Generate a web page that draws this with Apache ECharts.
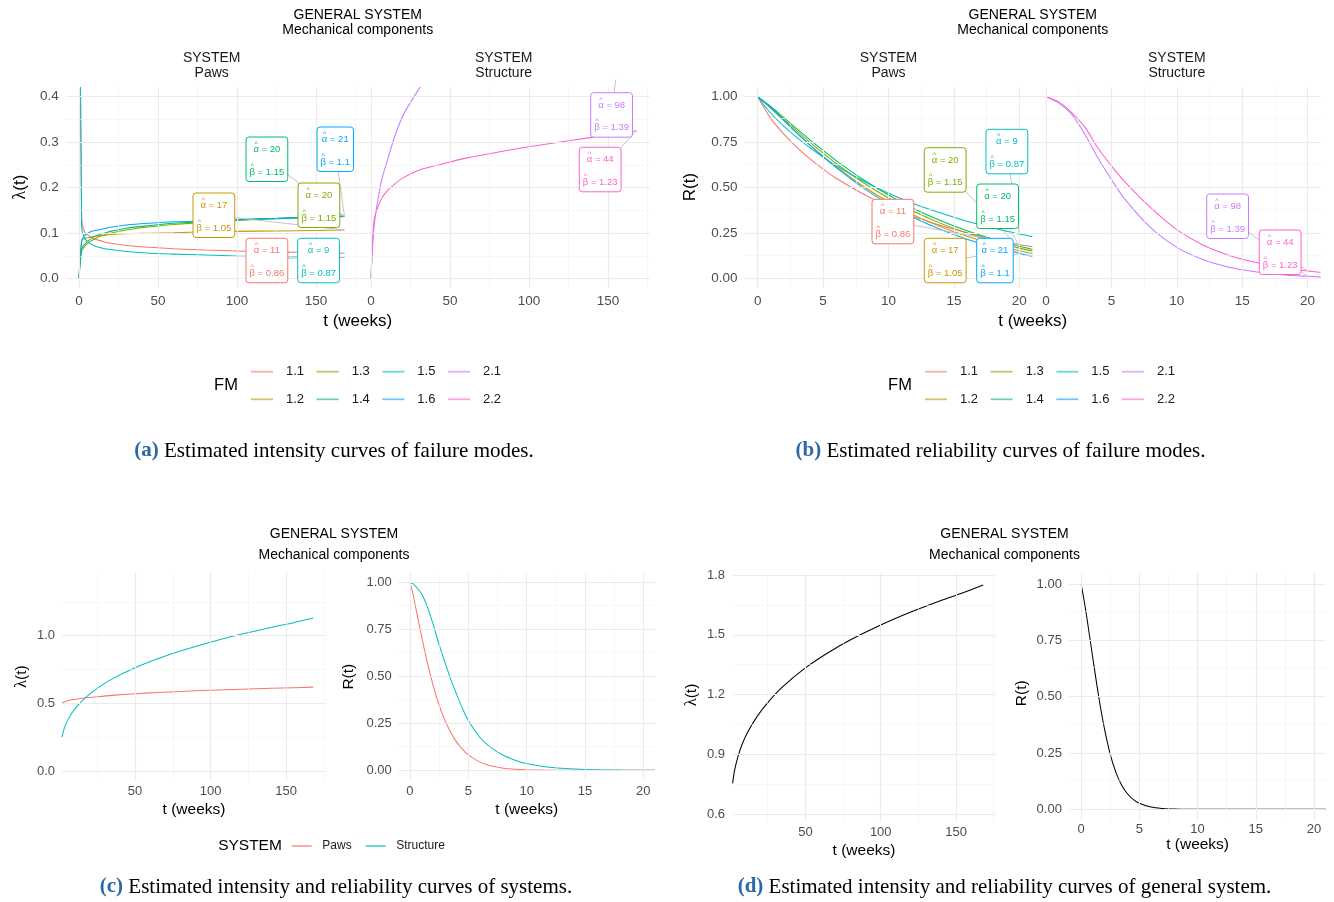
<!DOCTYPE html>
<html>
<head>
<meta charset="utf-8">
<script src="https://cdn.jsdelivr.net/npm/echarts@6.0.0/dist/echarts.min.js"></script>
<style>
  html, body { margin: 0; padding: 0; background: #ffffff; }
  #chart { width: 1334px; height: 902px; }
</style>
</head>
<body>
<div id="chart"></div>
<script>
// ---------------- data ----------------
const FM_NAMES = ['1.1', '1.2', '1.3', '1.4', '1.5', '1.6', '2.1', '2.2'];
const FM_SYSTEM = ['Paws', 'Paws', 'Paws', 'Paws', 'Paws', 'Paws', 'Structure', 'Structure'];
const ALPHA_HAT = [11, 17, 20, 20, 9, 21, 98, 44];
const BETA_HAT = [0.86, 1.05, 1.15, 1.15, 0.87, 1.1, 1.39, 1.23];

// intensity of each failure mode, t in weeks
const T_INT = [0, 1.68, 3.36, 6.72, 10, 15, 20, 30, 45, 60, 80, 100, 125, 150, 168];
const INT_1_1 = [1.0, 0.135, 0.104, 0.093, 0.087, 0.082, 0.078, 0.073, 0.069, 0.066, 0.063, 0.061, 0.059, 0.057, 0.056];
const INT_1_2 = [0.0, 0.085, 0.088, 0.091, 0.093, 0.095, 0.097, 0.099, 0.100, 0.101, 0.103, 0.104, 0.105, 0.106, 0.107];
const INT_1_3 = [0.0, 0.060, 0.070, 0.081, 0.088, 0.095, 0.100, 0.107, 0.114, 0.119, 0.124, 0.128, 0.132, 0.135, 0.137];
const INT_1_4 = [0.0, 0.065, 0.075, 0.086, 0.093, 0.099, 0.104, 0.111, 0.117, 0.122, 0.126, 0.130, 0.133, 0.136, 0.137];
const INT_1_5 = [1.0, 0.115, 0.090, 0.078, 0.072, 0.067, 0.064, 0.060, 0.056, 0.054, 0.052, 0.050, 0.049, 0.048, 0.047];
const INT_1_6 = [0.0, 0.080, 0.094, 0.102, 0.106, 0.109, 0.113, 0.118, 0.122, 0.125, 0.127, 0.129, 0.132, 0.135, 0.137];
const INT_2_1 = [0.0, 0.105, 0.152, 0.216, 0.256, 0.312, 0.357, 0.415, 0.490, 0.550, 0.620, 0.680, 0.740, 0.800, 0.830];
const INT_2_2 = [0.0, 0.120, 0.148, 0.176, 0.192, 0.208, 0.221, 0.238, 0.252, 0.265, 0.278, 0.290, 0.303, 0.316, 0.325];

// reliability of each failure mode
const T_REL = [0, 1, 2, 3, 4, 5, 6, 8, 10, 12, 14, 16, 18, 20, 21];
const REL_1_1 = [1, 0.881, 0.794, 0.721, 0.658, 0.602, 0.552, 0.468, 0.398, 0.340, 0.292, 0.252, 0.217, 0.188, 0.175];
const REL_1_2 = [1, 0.937, 0.868, 0.800, 0.734, 0.673, 0.615, 0.511, 0.423, 0.348, 0.285, 0.233, 0.190, 0.154, 0.139];
const REL_1_3 = [1, 0.941, 0.876, 0.812, 0.749, 0.690, 0.633, 0.531, 0.443, 0.368, 0.304, 0.251, 0.206, 0.168, 0.152];
const REL_1_4 = [1, 0.946, 0.885, 0.823, 0.763, 0.705, 0.649, 0.548, 0.460, 0.383, 0.318, 0.263, 0.217, 0.178, 0.161];
const REL_1_5 = [1, 0.909, 0.838, 0.775, 0.719, 0.668, 0.621, 0.540, 0.470, 0.411, 0.361, 0.316, 0.278, 0.245, 0.230];
const REL_1_6 = [1, 0.939, 0.870, 0.800, 0.733, 0.670, 0.610, 0.502, 0.411, 0.334, 0.270, 0.217, 0.174, 0.139, 0.124];
const REL_2_1 = [1, 0.965, 0.900, 0.790, 0.660, 0.545, 0.440, 0.280, 0.172, 0.105, 0.063, 0.038, 0.022, 0.013, 0.010];
const REL_2_2 = [1, 0.970, 0.910, 0.830, 0.715, 0.620, 0.535, 0.390, 0.270, 0.185, 0.128, 0.090, 0.062, 0.042, 0.035];

// systems and general system
const SYSTEMS = ['Paws', 'Structure'];
const T_SYS_INT = [1.68, 3, 5, 8, 12, 18, 25, 35, 50, 65, 80, 100, 120, 140, 155, 168];
const SYS_INT_PAWS = [0.502, 0.510, 0.518, 0.526, 0.533, 0.541, 0.549, 0.559, 0.571, 0.580, 0.588, 0.597, 0.604, 0.611, 0.616, 0.620];
const SYS_INT_STRUCTURE = [0.250, 0.310, 0.365, 0.425, 0.483, 0.550, 0.611, 0.681, 0.763, 0.830, 0.887, 0.952, 1.010, 1.061, 1.096, 1.130];
const GEN_INT = [0.755, 0.820, 0.883, 0.951, 1.016, 1.091, 1.160, 1.240, 1.334, 1.410, 1.475, 1.549, 1.614, 1.672, 1.712, 1.750];

const T_SYS_REL = [0, 0.25, 0.5, 1, 1.5, 2, 2.5, 3, 3.5, 4, 4.5, 5, 6, 7, 8, 9, 10, 12, 15, 18, 21];
const SYS_REL_PAWS = [1, 0.941, 0.866, 0.712, 0.571, 0.449, 0.347, 0.266, 0.201, 0.150, 0.112, 0.082, 0.0437, 0.0226, 0.0114, 0.0056, 0.0027, 0.0006, 0.00005, 0, 0];
const SYS_REL_STRUCTURE = [1, 0.995, 0.980, 0.940, 0.870, 0.775, 0.670, 0.575, 0.485, 0.405, 0.330, 0.265, 0.175, 0.118, 0.080, 0.054, 0.036, 0.016, 0.004, 0.001, 0.0002];
const GEN_REL = [1, 0.930, 0.850, 0.675, 0.505, 0.360, 0.245, 0.163, 0.106, 0.068, 0.043, 0.027, 0.010, 0.0037, 0.0013, 0.0005, 0.0002, 0, 0, 0, 0];

// tick values
const X_TICKS_LONG = [0, 50, 100, 150];
const X_TICKS_SYS = [50, 100, 150];
const X_TICKS_SHORT = [0, 5, 10, 15, 20];
const Y_TICKS_INT = [0, 0.1, 0.2, 0.3, 0.4];
const Y_TICKS_REL = [0, 0.25, 0.5, 0.75, 1];
const Y_TICKS_SYS_INT = [0, 0.5, 1.0];
const Y_TICKS_GEN_INT = [0.6, 0.9, 1.2, 1.5, 1.8];

const FM_INT = [INT_1_1, INT_1_2, INT_1_3, INT_1_4, INT_1_5, INT_1_6, INT_2_1, INT_2_2];
const FM_REL = [REL_1_1, REL_1_2, REL_1_3, REL_1_4, REL_1_5, REL_1_6, REL_2_1, REL_2_2];

// ---------------- styling ----------------
const SANS = '"Liberation Sans", Arial, Helvetica, sans-serif';
const SERIF = '"Liberation Serif", "Times New Roman", serif';
const FM_COLORS = ['#F8766D', '#CD9600', '#7CAE00', '#00BE67', '#00BFC4', '#00A9FF', '#C77CFF', '#FF61CC'];
const SYS_COLORS = ['#F8766D', '#00BFC4'];
const MAJOR = { color: '#EBEBEB', width: 1.1, type: 'solid' };
const MINOR = { color: '#F1F1F1', width: 0.6, type: 'solid' };
const TICK_COLOR = '#4D4D4D';
const INK = '#1A1A1A';

const minorOf = (ticks) => {
  const out = [];
  for (let i = 0; i < ticks.length - 1; i++) out.push((ticks[i] + ticks[i + 1]) / 2);
  return out;
};

// plotting panels (pixel boxes and axis ranges)
const PANELS = [
  { left: 65.7, top: 87.6, width: 292, height: 200.2, x: [-8.4, 176.4], y: [-0.02, 0.42],
    xt: X_TICKS_LONG, xm: [25, 75, 125, 175], yt: Y_TICKS_INT, ym: minorOf(Y_TICKS_INT), yDigits: 1, yLab: true, fs: 13.5, xMargin: 6, yMargin: 7 },
  { left: 357.7, top: 87.6, width: 292, height: 200.2, x: [-8.4, 176.4], y: [-0.02, 0.42],
    xt: X_TICKS_LONG, xm: [25, 75, 125, 175], yt: Y_TICKS_INT, ym: minorOf(Y_TICKS_INT), yDigits: 1, yLab: false, fs: 13.5, xMargin: 6, yMargin: 7 },
  { left: 744.6, top: 87.6, width: 287.8, height: 200.2, x: [-1, 21], y: [-0.05, 1.05],
    xt: X_TICKS_SHORT, xm: minorOf(X_TICKS_SHORT), yt: Y_TICKS_REL, ym: minorOf(Y_TICKS_REL), yDigits: 2, yLab: true, fs: 13.5, xMargin: 6, yMargin: 7 },
  { left: 1032.9, top: 87.6, width: 287.8, height: 200.2, x: [-1, 21], y: [-0.05, 1.05],
    xt: X_TICKS_SHORT, xm: minorOf(X_TICKS_SHORT), yt: Y_TICKS_REL, ym: minorOf(Y_TICKS_REL), yDigits: 2, yLab: false, fs: 13.5, xMargin: 6, yMargin: 7 },
  { left: 62, top: 572.1, width: 263.8, height: 208.4, x: [1.68, 176.3], y: [-0.07, 1.47],
    xt: X_TICKS_SYS, xm: [25, 75, 125, 175], yt: Y_TICKS_SYS_INT, ym: [0.25, 0.75, 1.25], yDigits: 1, yLab: true, fs: 13, xMargin: 4, yMargin: 7 },
  { left: 398.3, top: 573.3, width: 256.7, height: 206.4, x: [-1, 21], y: [-0.05, 1.05],
    xt: X_TICKS_SHORT, xm: minorOf(X_TICKS_SHORT), yt: Y_TICKS_REL, ym: minorOf(Y_TICKS_REL), yDigits: 2, yLab: true, fs: 13, xMargin: 5, yMargin: 6.5 },
  { left: 732.6, top: 573, width: 263.1, height: 248.7, x: [1.68, 176.3], y: [0.563, 1.81],
    xt: X_TICKS_SYS, xm: [25, 75, 125, 175], yt: Y_TICKS_GEN_INT, ym: minorOf(Y_TICKS_GEN_INT), yDigits: 1, yLab: true, fs: 13, xMargin: 4.5, yMargin: 7.5 },
  { left: 1069.4, top: 572.7, width: 256.3, height: 247.9, x: [-1, 21], y: [-0.05, 1.05],
    xt: X_TICKS_SHORT, xm: minorOf(X_TICKS_SHORT), yt: Y_TICKS_REL, ym: minorOf(Y_TICKS_REL), yDigits: 2, yLab: true, fs: 13, xMargin: 2, yMargin: 7.5 }
];

const grid = [], xAxis = [], yAxis = [], series = [];

PANELS.forEach((p, i) => {
  grid.push({ left: p.left, top: p.top, width: p.width, height: p.height, containLabel: false, outerBoundsMode: 'none' });
  xAxis.push({
    type: 'value', gridIndex: i, min: p.x[0], max: p.x[1],
    axisLine: { show: false }, axisTick: { show: false }, splitLine: { show: false },
    axisLabel: { show: true, customValues: p.xt, margin: p.xMargin, fontSize: p.fs, color: TICK_COLOR, fontFamily: SANS,
      formatter: (v) => String(Math.round(v)) }
  });
  yAxis.push({
    type: 'value', gridIndex: i, min: p.y[0], max: p.y[1],
    axisLine: { show: false }, axisTick: { show: false }, splitLine: { show: false },
    axisLabel: { show: p.yLab, customValues: p.yt, margin: p.yMargin, fontSize: p.fs, color: TICK_COLOR, fontFamily: SANS,
      formatter: (v) => Number(v).toFixed(p.yDigits) }
  });
  // panel grid lines drawn through the axis scales
  const lines = [];
  p.xm.forEach((v) => lines.push({ xAxis: v, lineStyle: MINOR }));
  p.ym.forEach((v) => lines.push({ yAxis: v, lineStyle: MINOR }));
  p.xt.forEach((v) => lines.push({ xAxis: v, lineStyle: MAJOR }));
  p.yt.forEach((v) => lines.push({ yAxis: v, lineStyle: MAJOR }));
  series.push({
    type: 'line', name: 'panel-grid-' + i, xAxisIndex: i, yAxisIndex: i, data: [], z: 1, silent: true,
    markLine: { silent: true, symbol: ['none', 'none'], label: { show: false }, emphasis: { disabled: true },
      lineStyle: { type: 'solid' }, animation: false, data: lines }
  });
});

const pairs = (ts, vs) => ts.map((t, k) => [t, vs[k]]);
const curve = (name, panel, data, color) => ({
  type: 'line', name, xAxisIndex: panel, yAxisIndex: panel, data,
  symbol: 'none', showSymbol: false, smooth: 0.3, clip: true,
  lineStyle: { color, width: 1.05 }, itemStyle: { color }, emphasis: { disabled: true }, z: 3, animation: false
});

// (a) intensity and (b) reliability of the failure modes, faceted by system
FM_NAMES.forEach((fm, k) => {
  const facet = FM_SYSTEM[k] === 'Paws' ? 0 : 1;
  series.push(curve(fm, facet, pairs(T_INT, FM_INT[k]), FM_COLORS[k]));
});
FM_NAMES.forEach((fm, k) => {
  const facet = FM_SYSTEM[k] === 'Paws' ? 2 : 3;
  series.push(curve(fm, facet, pairs(T_REL, FM_REL[k]), FM_COLORS[k]));
});
// (c) systems
series.push(curve(SYSTEMS[0], 4, pairs(T_SYS_INT, SYS_INT_PAWS), SYS_COLORS[0]));
series.push(curve(SYSTEMS[1], 4, pairs(T_SYS_INT, SYS_INT_STRUCTURE), SYS_COLORS[1]));
series.push(curve(SYSTEMS[0], 5, pairs(T_SYS_REL, SYS_REL_PAWS), SYS_COLORS[0]));
series.push(curve(SYSTEMS[1], 5, pairs(T_SYS_REL, SYS_REL_STRUCTURE), SYS_COLORS[1]));
// (d) general system
series.push(curve('General system', 6, pairs(T_SYS_INT, GEN_INT), '#000000'));
series.push(curve('General system', 7, pairs(T_SYS_REL, GEN_REL), '#000000'));

const FM_LEGEND_ORDER = ['1.1', '1.3', '1.5', '2.1', '1.2', '1.4', '1.6', '2.2'];
const fmLegend = (left) => ({
  left, top: 364.2, width: 262, orient: 'horizontal', padding: 0,
  icon: 'rect', itemWidth: 22, itemHeight: 1.8, itemGap: 12.6, selectedMode: false,
  itemStyle: { opacity: 0.6, borderWidth: 0 },
  data: FM_LEGEND_ORDER,
  textStyle: { fontFamily: SANS, fontSize: 13, color: INK, padding: [0, 0, 0, 8], lineHeight: 15 }
});

const chart = echarts.init(document.getElementById('chart'), null, { renderer: 'canvas', width: 1334, height: 902 });
chart.setOption({
  animation: false,
  backgroundColor: '#ffffff',
  grid, xAxis, yAxis, series,
  legend: [
    fmLegend(251),
    fmLegend(925),
    { left: 291.7, top: 839, orient: 'horizontal', padding: 0, icon: 'rect', itemWidth: 20, itemHeight: 1.2, itemGap: 14,
      selectedMode: false, data: SYSTEMS, itemStyle: { borderWidth: 0 },
      textStyle: { fontFamily: SANS, fontSize: 12, color: INK, padding: [0, 0, 0, 5.6], lineHeight: 14 } }
  ]
});

// ---------------- text, estimate boxes and leader lines ----------------
const measureCtx = document.createElement('canvas').getContext('2d');
const BOX_FONT = 9.5;
const measure = (s) => { measureCtx.font = BOX_FONT + 'px ' + SANS; return measureCtx.measureText(s).width; };

const graphics = [];
function text(str, x, y, size, opt) {
  opt = opt || {};
  graphics.push({
    type: 'text', x, y, rotation: opt.rot || 0, z: 100, silent: true,
    style: {
      text: str, x: 0, y: 0, fontSize: size, fontFamily: opt.family || SANS, fontWeight: opt.weight || 'normal',
      fill: opt.color || INK, align: opt.align || 'center', verticalAlign: 'middle',
      textAlign: opt.align || 'center', textVerticalAlign: 'middle', rich: opt.rich
    }
  });
}
const CAP = 21;
const lambdaRich = { l: { fontFamily: SERIF, fontSize: 18 } };
const capRich = { b: { fill: '#2A68A8', fontWeight: 'bold', fontFamily: SERIF, fontSize: CAP } };

// (a)
text('GENERAL SYSTEM', 357.7, 15, 14, { color: '#000' });
text('Mechanical components', 357.7, 30, 14, { color: '#000' });
text('SYSTEM', 211.7, 58, 14); text('Paws', 211.7, 73, 14);
text('SYSTEM', 503.7, 58, 14); text('Structure', 503.7, 73, 14);
text('{l|λ}(t)', 20, 187, 17, { rot: Math.PI / 2, rich: lambdaRich, color: '#000' });
text('t (weeks)', 357.7, 321, 17, { color: '#000' });
text('FM', 226, 385, 16.5, { color: '#000' });
text('{b|(a)} Estimated intensity curves of failure modes.', 334, 451, CAP, { family: SERIF, color: '#000', rich: capRich });
// (b)
text('GENERAL SYSTEM', 1032.7, 15, 14, { color: '#000' });
text('Mechanical components', 1032.7, 30, 14, { color: '#000' });
text('SYSTEM', 888.5, 58, 14); text('Paws', 888.5, 73, 14);
text('SYSTEM', 1176.8, 58, 14); text('Structure', 1176.8, 73, 14);
text('R(t)', 690, 187, 17, { rot: Math.PI / 2, color: '#000' });
text('t (weeks)', 1032.7, 321, 17, { color: '#000' });
text('FM', 900, 385, 16.5, { color: '#000' });
text('{b|(b)} Estimated reliability curves of failure modes.', 1000.5, 451, CAP, { family: SERIF, color: '#000', rich: capRich });
// (c)
text('GENERAL SYSTEM', 334, 534, 14, { color: '#000' });
text('Mechanical components', 334, 555, 14, { color: '#000' });
text('{l|λ}(t)', 21.7, 676.7, 15.5, { rot: Math.PI / 2, rich: { l: { fontFamily: SERIF, fontSize: 16.5 } }, color: '#000' });
text('t (weeks)', 194, 810, 15.5, { color: '#000' });
text('R(t)', 348.3, 676.7, 15.5, { rot: Math.PI / 2, color: '#000' });
text('t (weeks)', 526.7, 810, 15.5, { color: '#000' });
text('SYSTEM', 250, 846, 15.5, { color: '#000' });
text('{b|(c)} Estimated intensity and reliability curves of systems.', 336, 887, CAP, { family: SERIF, color: '#000', rich: capRich });
// (d)
text('GENERAL SYSTEM', 1004.5, 534, 14, { color: '#000' });
text('Mechanical components', 1004.5, 555, 14, { color: '#000' });
text('{l|λ}(t)', 691.7, 695, 15.5, { rot: Math.PI / 2, rich: { l: { fontFamily: SERIF, fontSize: 16.5 } }, color: '#000' });
text('t (weeks)', 864, 850.7, 15.5, { color: '#000' });
text('R(t)', 1021.7, 693.3, 15.5, { rot: Math.PI / 2, color: '#000' });
text('t (weeks)', 1197.6, 845, 15.5, { color: '#000' });
text('{b|(d)} Estimated intensity and reliability curves of general system.', 1004.5, 887, CAP, { family: SERIF, color: '#000', rich: capRich });

// estimate boxes: pixel placement of each box and the curve point it points at
const BOX_H = 44.5;
const BOXES_A = [
  { fm: '1.4', left: 246, top: 137 }, { fm: '1.6', left: 317, top: 127 }, { fm: '1.3', left: 298, top: 183 },
  { fm: '1.2', left: 193, top: 193 }, { fm: '1.1', left: 246, top: 238.3 }, { fm: '1.5', left: 297.7, top: 238.3 },
  { fm: '2.1', left: 590.7, top: 92.7 }, { fm: '2.2', left: 579.3, top: 147.3 }
];
const BOXES_B = [
  { fm: '1.3', left: 924.3, top: 147.7 }, { fm: '1.5', left: 986, top: 129.3 }, { fm: '1.4', left: 976.7, top: 184 },
  { fm: '1.1', left: 872, top: 199.3 }, { fm: '1.2', left: 924.3, top: 238.3 }, { fm: '1.6', left: 976.7, top: 238.3 },
  { fm: '2.1', left: 1206.7, top: 194 }, { fm: '2.2', left: 1259.3, top: 230 }
];

function estimateBox(b, target, clipTop) {
  const k = FM_NAMES.indexOf(b.fm);
  const color = FM_COLORS[k];
  const l1 = 'α = ' + ALPHA_HAT[k];
  const l2 = 'β = ' + BETA_HAT[k];
  const w1 = measure(l1), w2 = measure(l2);
  const w = Math.max(w1, w2) + 7;
  const cx = b.left + w / 2, cy = b.top + BOX_H / 2;
  // leader segment from the box towards the curve point
  let x2 = target[0], y2 = target[1];
  if (y2 < clipTop) { const s = (clipTop - cy) / (y2 - cy); x2 = cx + s * (x2 - cx); y2 = clipTop; }
  graphics.push({ type: 'line', z: 90, silent: true, shape: { x1: cx, y1: cy, x2, y2 },
    style: { stroke: '#BDBDBD', lineWidth: 0.9 } });
  graphics.push({ type: 'rect', z: 95, silent: true,
    shape: { x: b.left, y: b.top, width: w, height: BOX_H, r: 3 },
    style: { fill: '#ffffff', stroke: color, lineWidth: 1 } });
  const tx1 = cx - w1 / 2, tx2 = cx - w2 / 2;
  const lines = [
    { s: l1, x: tx1, y: b.top + 12.5, hatX: tx1 + measure('α') / 2, hatY: b.top + 7 },
    { s: l2, x: tx2, y: b.top + 35, hatX: tx2 + measure('β') / 2, hatY: b.top + 28.5 }
  ];
  lines.forEach((ln) => {
    graphics.push({ type: 'text', z: 96, silent: true,
      style: { text: ln.s, x: ln.x, y: ln.y, fontSize: BOX_FONT, fontFamily: SANS, fill: color,
        align: 'left', verticalAlign: 'middle', textAlign: 'left', textVerticalAlign: 'middle' } });
    graphics.push({ type: 'text', z: 96, silent: true,
      style: { text: '^', x: ln.hatX, y: ln.hatY, fontSize: 7.5, fontFamily: SANS, fill: color,
        align: 'center', verticalAlign: 'middle', textAlign: 'center', textVerticalAlign: 'middle' } });
  });
}

const lastIdx = T_INT.length - 1;
BOXES_A.forEach((b) => {
  const k = FM_NAMES.indexOf(b.fm);
  const g = FM_SYSTEM[k] === 'Paws' ? 0 : 1;
  const pt = chart.convertToPixel({ gridIndex: g }, [T_INT[lastIdx], FM_INT[k][lastIdx]]);
  estimateBox(b, pt, PANELS[g].top - 8);
});
const relIdx = T_REL.indexOf(20);
BOXES_B.forEach((b) => {
  const k = FM_NAMES.indexOf(b.fm);
  const g = FM_SYSTEM[k] === 'Paws' ? 2 : 3;
  const pt = chart.convertToPixel({ gridIndex: g }, [T_REL[relIdx], FM_REL[k][relIdx]]);
  estimateBox(b, pt, PANELS[g].top - 8);
});

chart.setOption({ graphic: { elements: graphics } });
</script>
</body>
</html>
